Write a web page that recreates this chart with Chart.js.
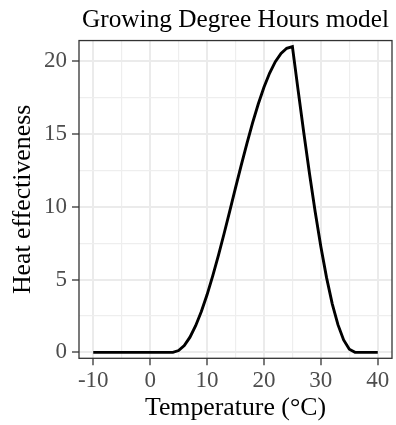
<!DOCTYPE html>
<html><head><meta charset="utf-8">
<script src="https://cdn.jsdelivr.net/npm/chart.js@4/dist/chart.umd.min.js"></script>
<style>html,body{margin:0;padding:0;background:#fff}</style>
</head><body>
<canvas id="c" width="396" height="425"></canvas>
<script>
const temperatures = [-10,-9,-8,-7,-6,-5,-4,-3,-2,-1,0,1,2,3,4,5,6,7,8,9,10,11,12,13,14,15,16,17,18,19,20,21,22,23,24,25,26,27,28,29,30,31,32,33,34,35,36,37,38,39,40];
const heatEffectiveness = [0,0,0,0,0,0,0,0,0,0,0,0,0,0,0,
  0.12,0.47,1.04,1.83,2.80,3.95,5.25,6.66,8.16,9.72,11.29,12.84,14.34,15.75,17.05,18.20,19.18,19.96,20.53,20.88,21.00,
  18.01,15.08,12.28,9.65,7.25,5.13,3.33,1.90,0.85,0.21,
  0,0,0,0,0];
const xTicks = [-10,-5,0,5,10,15,20,25,30,35,40];
const xMajor = [-10,0,10,20,30,40];
const yTicks = [0,2.5,5,7.5,10,12.5,15,17.5,20];
const yMajor = [0,5,10,15,20];

const FONT = "'Liberation Serif', 'Times New Roman', serif";

const borderPlugin = {
  id: 'panelBorder',
  afterDraw(chart) {
    const {ctx, chartArea: a} = chart;
    ctx.save();
    ctx.strokeStyle = '#333333';
    ctx.lineWidth = 1.3;
    ctx.strokeRect(a.left, a.top, a.right - a.left, a.bottom - a.top);
    ctx.restore();
  }
};

function gridOpts(major) {
  return {
    color: c => (c.tick && major.includes(c.tick.value)) ? '#EBEBEB' : '#EEEEEE',
    lineWidth: c => (c.tick && major.includes(c.tick.value)) ? 2 : 1.2,
    tickColor: c => (c.tick && major.includes(c.tick.value)) ? '#333333' : 'rgba(0,0,0,0)',
    tickLength: 7,
    tickWidth: 1.3,
    drawTicks: true
  };
}

new Chart(document.getElementById('c'), {
  type: 'line',
  data: {
    datasets: [{
      data: temperatures.map((t, i) => ({x: t, y: heatEffectiveness[i]})),
      borderColor: '#000000',
      borderWidth: 2.9,
      pointRadius: 0,
      tension: 0,
      fill: false
    }]
  },
  options: {
    responsive: false,
    devicePixelRatio: 1,
    animation: false,
    layout: {padding: {left: 0, right: 4, top: 0, bottom: 0}},
    plugins: {
      legend: {display: false},
      tooltip: {enabled: false},
      title: {
        display: true,
        text: 'Growing Degree Hours model',
        color: '#000000',
        font: {family: FONT, size: 25.3, weight: 'normal'},
        padding: {top: 4.8, bottom: 5.4},
        fullSize: false
      }
    },
    scales: {
      x: {
        type: 'linear',
        min: -12.5,
        max: 42.5,
        afterBuildTicks: s => { s.ticks = xTicks.map(v => ({value: v})); },
        afterFit: s => { s.height = 66.7; },
        border: {display: false},
        grid: gridOpts(xMajor),
        ticks: {
          color: '#4D4D4D',
          font: {family: FONT, size: 23},
          padding: 2,
          maxRotation: 0,
          autoSkip: false,
          callback: v => xMajor.includes(v) ? String(v) : ''
        },
        title: {
          display: true,
          text: 'Temperature (°C)',
          color: '#000000',
          font: {family: FONT, size: 25.8},
          padding: {top: 0, bottom: 1.2}
        }
      },
      y: {
        type: 'linear',
        min: -0.41,
        max: 21.41,
        afterBuildTicks: s => { s.ticks = yTicks.map(v => ({value: v})); },
        afterFit: s => { s.width = 79; },
        border: {display: false},
        grid: gridOpts(yMajor),
        ticks: {
          color: '#4D4D4D',
          font: {family: FONT, size: 23},
          padding: 5,
          autoSkip: false,
          callback: v => yMajor.includes(v) ? String(v) : ''
        },
        title: {
          display: true,
          text: 'Heat effectiveness',
          color: '#000000',
          font: {family: FONT, size: 25.8},
          padding: {top: 7.5, bottom: 0}
        }
      }
    }
  },
  plugins: [borderPlugin]
});
</script>
</body></html>
